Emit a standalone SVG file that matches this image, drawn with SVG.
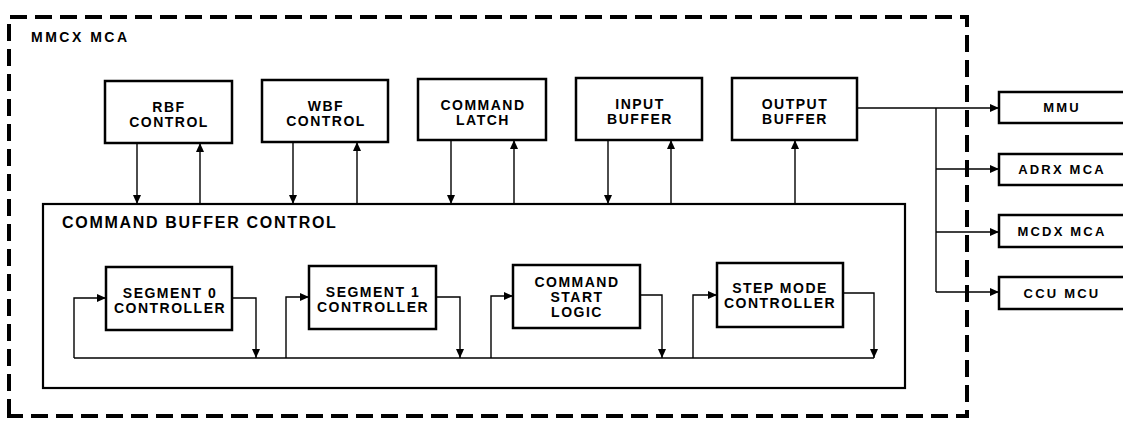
<svg xmlns="http://www.w3.org/2000/svg" width="1123" height="422" viewBox="0 0 1123 422">
<style>
  .box { fill: #fff; stroke: #000; stroke-width: 2.5; }
  .cbc { fill: none; stroke: #000; stroke-width: 2.2; }
  .wire { fill: none; stroke: #000; stroke-width: 1.4; }
  .outer { fill: none; stroke: #000; stroke-width: 4; stroke-dasharray: 17 8; }
  text { font-family: "Liberation Sans", Arial, sans-serif; font-weight: bold; fill: #000; }
  .lbl { font-size: 14px; letter-spacing: 1.5px; text-anchor: middle; }
  .ext { font-size: 13px; letter-spacing: 2.2px; text-anchor: middle; }
  .title { font-size: 14px; letter-spacing: 2.5px; }
  .cbct { font-size: 16px; letter-spacing: 1.7px; }
</style>
<defs>
  <marker id="ah" markerWidth="9" markerHeight="8" refX="9" refY="4" orient="auto" markerUnits="userSpaceOnUse">
    <path d="M0,0 L9,4 L0,8 z" fill="#000"/>
  </marker>
</defs>
<rect width="1123" height="422" fill="#fff"/>

<g id="mmcx-mca">
  <path class="outer" d="M9,416 V17 H967 V416 Z"/>
  <text class="title" x="31" y="42">MMCX MCA</text>
</g>

<g id="command-buffer-control">
  <rect class="cbc" x="43" y="204" width="862" height="184"/>
  <text class="cbct" x="62" y="228">COMMAND BUFFER CONTROL</text>
</g>

<g id="rbf-control">
  <rect class="box" x="105" y="81" width="127" height="62"/>
  <text class="lbl" x="169" y="112">RBF</text>
  <text class="lbl" x="169" y="127">CONTROL</text>
</g>
<g id="wbf-control">
  <rect class="box" x="262" y="80" width="126" height="62"/>
  <text class="lbl" x="326" y="111">WBF</text>
  <text class="lbl" x="326" y="126">CONTROL</text>
</g>
<g id="command-latch">
  <rect class="box" x="418" y="79" width="128" height="61"/>
  <text class="lbl" x="483" y="110">COMMAND</text>
  <text class="lbl" x="483" y="125">LATCH</text>
</g>
<g id="input-buffer">
  <rect class="box" x="576" y="78" width="126" height="62"/>
  <text class="lbl" x="640" y="109">INPUT</text>
  <text class="lbl" x="640" y="124">BUFFER</text>
</g>
<g id="output-buffer">
  <rect class="box" x="732" y="78" width="125" height="62"/>
  <text class="lbl" x="795" y="109">OUTPUT</text>
  <text class="lbl" x="795" y="124">BUFFER</text>
</g>

<g id="segment-0-controller">
  <rect class="box" x="106" y="267" width="126" height="63"/>
  <text class="lbl" x="170" y="298">SEGMENT 0</text>
  <text class="lbl" x="170" y="313">CONTROLLER</text>
</g>
<g id="segment-1-controller">
  <rect class="box" x="309" y="266" width="127" height="63"/>
  <text class="lbl" x="373" y="297">SEGMENT 1</text>
  <text class="lbl" x="373" y="312">CONTROLLER</text>
</g>
<g id="command-start-logic">
  <rect class="box" x="513" y="265" width="127" height="63"/>
  <text class="lbl" x="577" y="287">COMMAND</text>
  <text class="lbl" x="577" y="302">START</text>
  <text class="lbl" x="577" y="317">LOGIC</text>
</g>
<g id="step-mode-controller">
  <rect class="box" x="717" y="263" width="126" height="64"/>
  <text class="lbl" x="780" y="293">STEP MODE</text>
  <text class="lbl" x="780" y="308">CONTROLLER</text>
</g>

<g id="mmu">
  <rect class="box" x="999" y="92" width="140" height="31"/>
  <text class="ext" x="1062" y="112">MMU</text>
</g>
<g id="adrx-mca">
  <rect class="box" x="999" y="154" width="140" height="31"/>
  <text class="ext" x="1062" y="174">ADRX MCA</text>
</g>
<g id="mcdx-mca">
  <rect class="box" x="999" y="215" width="140" height="32"/>
  <text class="ext" x="1062" y="236">MCDX MCA</text>
</g>
<g id="ccu-mcu">
  <rect class="box" x="999" y="277" width="140" height="32"/>
  <text class="ext" x="1062" y="298">CCU MCU</text>
</g>

<g id="connectors">
  <!-- top row to command buffer control -->
  <path class="wire" d="M137,143 V204" marker-end="url(#ah)"/>
  <path class="wire" d="M200,204 V143" marker-end="url(#ah)"/>
  <path class="wire" d="M293,142 V204" marker-end="url(#ah)"/>
  <path class="wire" d="M357,204 V142" marker-end="url(#ah)"/>
  <path class="wire" d="M451,140 V204" marker-end="url(#ah)"/>
  <path class="wire" d="M514,204 V140" marker-end="url(#ah)"/>
  <path class="wire" d="M608,140 V204" marker-end="url(#ah)"/>
  <path class="wire" d="M671,204 V140" marker-end="url(#ah)"/>
  <path class="wire" d="M795,204 V140" marker-end="url(#ah)"/>

  <!-- internal bus -->
  <path class="wire" d="M74,358 H874"/>
  <path class="wire" d="M74,358 V298 H106" marker-end="url(#ah)"/>
  <path class="wire" d="M232,298 H256 V358" marker-end="url(#ah)"/>
  <path class="wire" d="M286,358 V297 H309" marker-end="url(#ah)"/>
  <path class="wire" d="M436,297 H460 V358" marker-end="url(#ah)"/>
  <path class="wire" d="M491,358 V296 H513" marker-end="url(#ah)"/>
  <path class="wire" d="M640,295 H662 V358" marker-end="url(#ah)"/>
  <path class="wire" d="M693,358 V295 H717" marker-end="url(#ah)"/>
  <path class="wire" d="M843,293 H874 V358" marker-end="url(#ah)"/>

  <!-- output buffer to external units -->
  <path class="wire" d="M857,108 H999" marker-end="url(#ah)"/>
  <path class="wire" d="M936,108 V292"/>
  <path class="wire" d="M936,169 H999" marker-end="url(#ah)"/>
  <path class="wire" d="M936,232 H999" marker-end="url(#ah)"/>
  <path class="wire" d="M936,292 H999" marker-end="url(#ah)"/>
</g>
</svg>
